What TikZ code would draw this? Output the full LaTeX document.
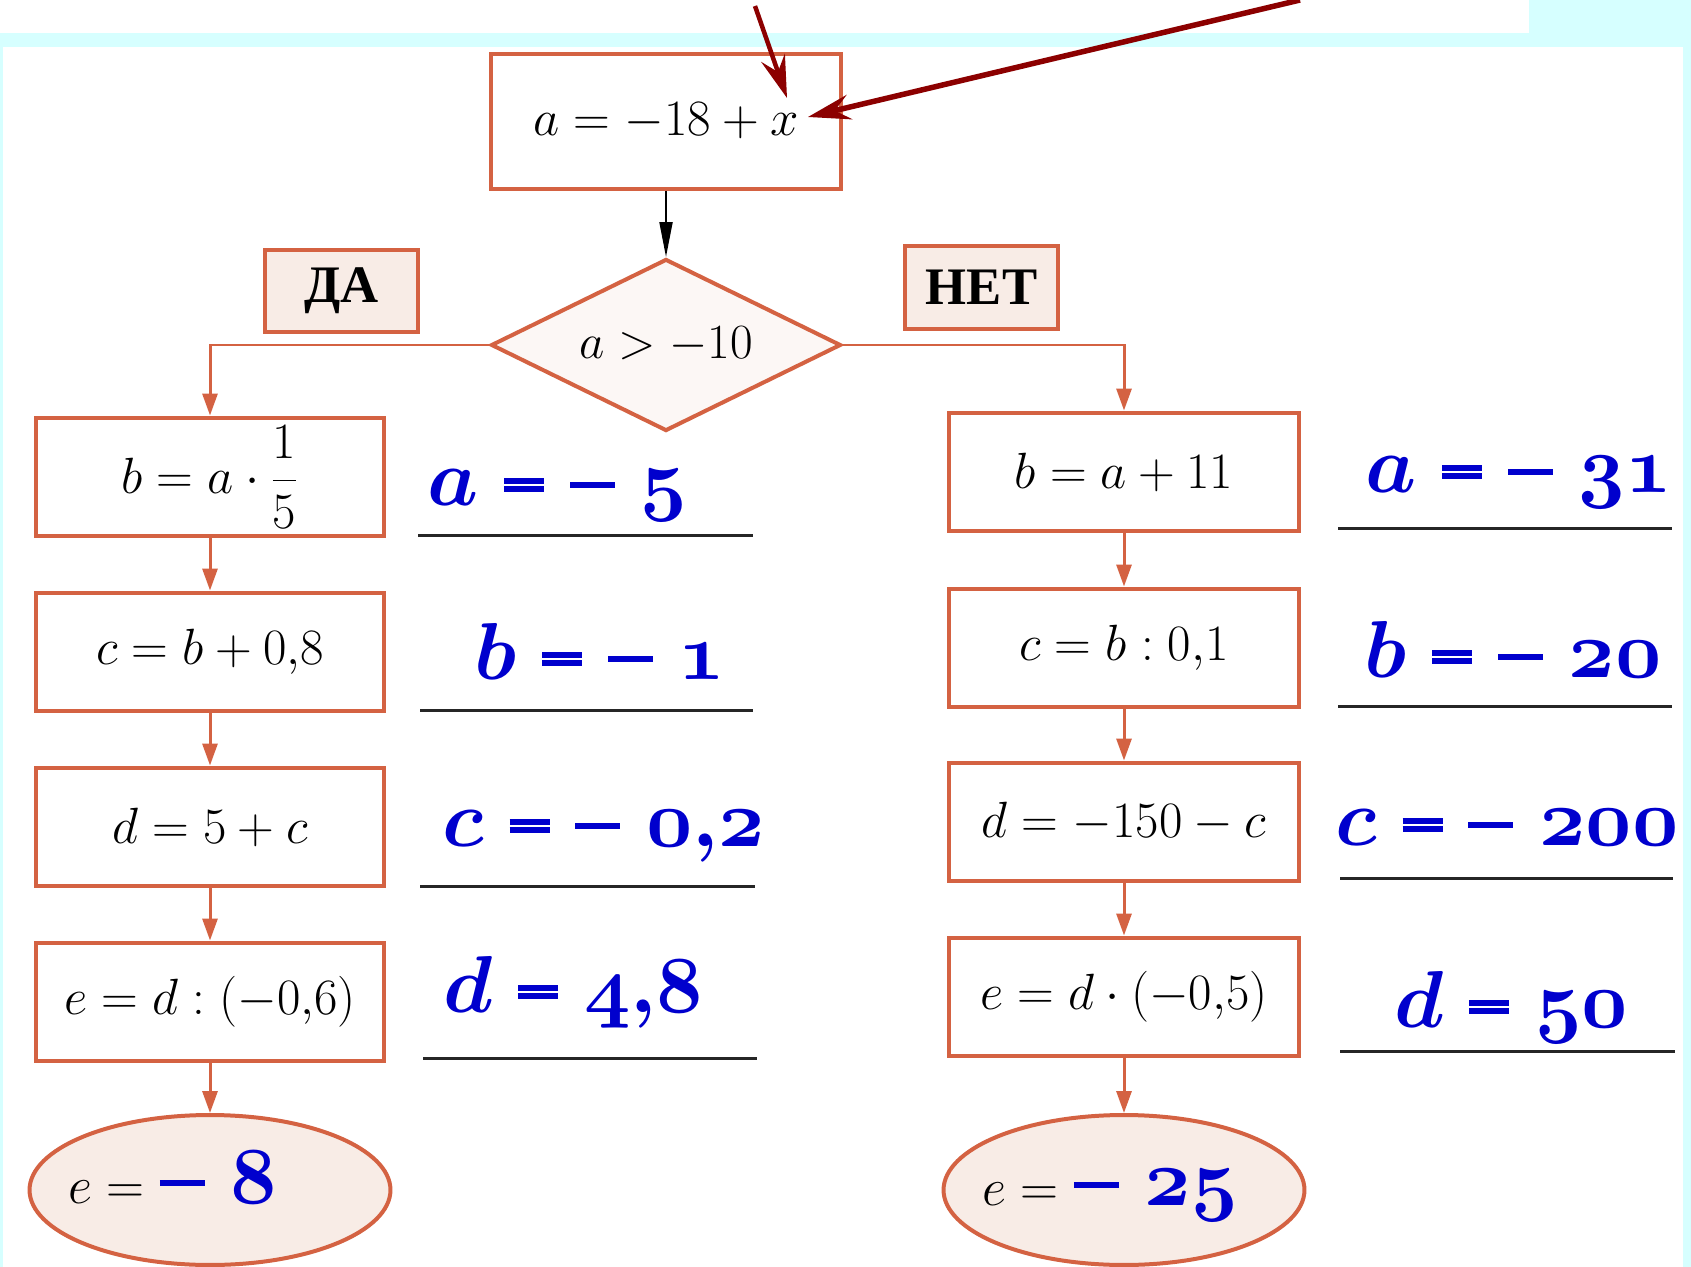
\RequirePackage{fix-cm}
\documentclass[tikz,border=0pt]{standalone}
\usepackage{fontspec}
\newfontfamily\cyrfont{Liberation Serif}
\usetikzlibrary{shapes.geometric,arrows.meta}
\definecolor{brick}{RGB}{212,98,66}
\definecolor{ansblue}{RGB}{0,0,205}
\definecolor{darkred}{RGB}{140,0,0}
\definecolor{bgcyan}{RGB}{214,255,255}
\definecolor{pinkfill}{RGB}{248,236,230}
% жирные знаки для ответов
\newcommand\Eq{\mathrel{\vcenter{\offinterlineskip\hbox{\rule{0.8cm}{0.12cm}}\kern0.05cm\hbox{\rule{0.8cm}{0.12cm}}}}}
\newcommand\Mn{\mathord{\vcenter{\hbox{\rule{0.9cm}{0.13cm}}}}}
\begin{document}
\begin{tikzpicture}[x=0.02cm, y=-0.02cm, >={Triangle[length=0.44cm,width=0.3cm]},
  blk/.style={draw=brick, line width=0.08cm, fill=white, minimum width=7cm, minimum height=2.38cm, inner sep=0pt, font=\fontsize{29}{34}\selectfont},
  decision/.style={diamond, draw=brick, line width=0.08cm, fill=pinkfill!40, aspect=2, minimum width=7cm, minimum height=3.44cm, inner sep=0pt, font=\fontsize{28}{34}\selectfont},
  yesno/.style={draw=brick, line width=0.08cm, fill=pinkfill, minimum width=3.08cm, minimum height=1.65cm, inner sep=0pt, font=\cyrfont\bfseries\fontsize{30}{36}\selectfont},
  finish/.style={ellipse, draw=brick, line width=0.08cm, fill=pinkfill, minimum width=7.22cm, minimum height=3cm, inner sep=0pt},
  flow/.style={draw=brick, line width=0.06cm, ->},
  pointer/.style={draw=darkred, line width=0.09cm, -{Stealth[length=0.85cm,width=0.5cm,inset=0.3cm]}},
  ans/.style={anchor=base west, inner sep=0pt, text=ansblue, font=\fontsize{46}{54}\selectfont\boldmath},
  uline/.style={line width=0.06cm, black!85},
  etext/.style={anchor=base west, inner sep=0pt, font=\fontsize{30}{36}\selectfont}]
  % фон
  \fill[bgcyan] (0,0) rectangle (1691,1267);
  \fill[white] (0,0) rectangle (1529,33);
  \fill[white] (3,47) rectangle (1683,1267);
  \useasboundingbox (0,0) rectangle (1691,1267);

  % начало и условие
  \node[blk, minimum height=2.7cm] (start) at (666,121.5) {$a = -18 + x$};
  \node[decision] (cond) at (666,345) {$a > -10$};
  \node[yesno] (yes) at (341.5,291) {ДА};
  \node[yesno] (no) at (981.5,287.5) {НЕТ};

  % ветка ДА
  \node[blk, minimum width=6.96cm] (L1) at (210,477) {$b = a \cdot {\displaystyle\frac{1}{5}}$};
  \node[blk, minimum width=6.96cm] (L2) at (210,652) {$c = b + 0{,}8$};
  \node[blk, minimum width=6.96cm] (L3) at (210,827) {$d = 5 + c$};
  \node[blk, minimum width=6.96cm] (L4) at (210,1002) {$e = d : (-0{,}6)$};
  \node[finish] (endL) at (210,1190) {};

  % ветка НЕТ
  \node[blk] (R1) at (1124,472) {$b = a + 11$};
  \node[blk] (R2) at (1124,648) {$c = b : 0{,}1$};
  \node[blk] (R3) at (1124,822) {$d = -150 - c$};
  \node[blk] (R4) at (1124,997) {$e = d \cdot (-0{,}5)$};
  \node[finish] (endR) at (1124,1190) {};

  % стрелки
  \draw[->, line width=0.04cm, >={Triangle[length=0.7cm,width=0.26cm]}] (start) -- (cond);
  \draw[flow] (cond.west) -| (L1.north);
  \draw[flow] (cond.east) -| (R1.north);
  \foreach \a/\b in {L1/L2, L2/L3, L3/L4, L4/endL, R1/R2, R2/R3, R3/R4, R4/endR}
    \draw[flow] (\a) -- (\b);

  % ответы
  \node[ans] (ansLa) at (427,505) {$a \Eq \Mn\;\mathnormal{5}$};
  \node[ans] (ansLb) at (474,679) {$b \Eq \Mn\;\mathnormal{1}$};
  \node[ans] (ansLc) at (442,846) {$c \Eq \Mn\;\mathnormal{0{,}2}$};
  \node[ans] (ansLd) at (443,1012) {$d \Eq \mathnormal{4{,}8}$};
  \node[ans] (ansRa) at (1365,492) {$a \Eq \Mn\;\mathnormal{31}$};
  \node[ans] (ansRb) at (1364,677) {$b \Eq \Mn\;\mathnormal{20}$};
  \node[ans] (ansRc) at (1335,845) {$c \Eq \Mn\;\mathnormal{200}$};
  \node[ans] (ansRd) at (1394,1027) {$d \Eq \mathnormal{50}$};
  \draw[uline] (418,535) -- (753,535);
  \draw[uline] (420,710) -- (753,710);
  \draw[uline] (420,886) -- (755,886);
  \draw[uline] (423,1058) -- (757,1058);
  \draw[uline] (1338,528) -- (1672,528);
  \draw[uline] (1338,706) -- (1672,706);
  \draw[uline] (1340,878) -- (1673,878);
  \draw[uline] (1340,1051) -- (1675,1051);

  % результаты
  \node[etext] (resL) at (68,1203) {$e =$\hspace{0.3cm}{\color{ansblue}\fontsize{46}{54}\selectfont\boldmath$\Mn\;\mathnormal{8}$}};
  \node[etext] (resR) at (982,1205) {$e =$\hspace{0.3cm}{\color{ansblue}\fontsize{46}{54}\selectfont\boldmath$\Mn\;\mathnormal{25}$}};

  % указатели на x
  \coordinate (top1) at (755,6);
  \coordinate (top2) at (1300,0);
  \coordinate (hit1) at (787,98);
  \coordinate (hit2) at (808,117);
  \draw[pointer] (top1) -- (hit1);
  \draw[pointer, line width=0.11cm] (top2) -- (hit2);
\end{tikzpicture}
\end{document}
